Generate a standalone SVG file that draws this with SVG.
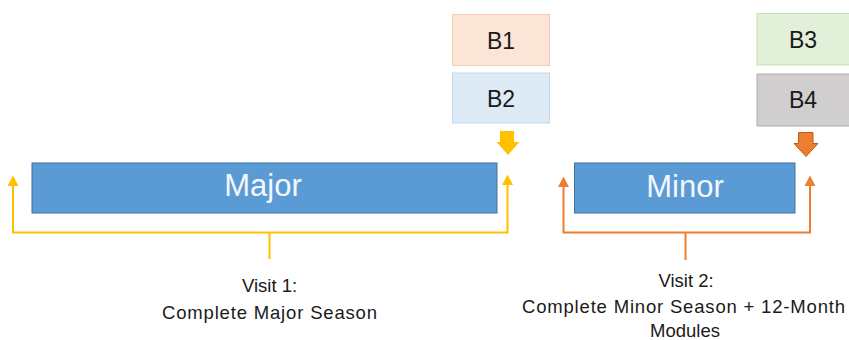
<svg xmlns="http://www.w3.org/2000/svg" width="849" height="340" viewBox="0 0 849 340">
<style>
.lbl{font-family:"Liberation Sans",Arial,sans-serif;fill:#1a1a1a;text-anchor:middle}
.box{font-size:23px}
.big{font-family:"Liberation Sans",Arial,sans-serif;fill:#f4f7fb;font-size:31px;text-anchor:middle}
.cap{font-size:18.5px}
.ylw{fill:none;stroke:#ffc000;stroke-width:2}
.org{fill:none;stroke:#ed7d31;stroke-width:2}
.yh{fill:#ffc000}
.oh{fill:#ed7d31}
</style>
<g id="B1"><rect x="452.5" y="14.5" width="97" height="51" fill="#fbe5d6" stroke="#f8cbad"/><text class="lbl box" x="501" y="48.5">B1</text></g>
<g id="B2"><rect x="452.5" y="73" width="97" height="50" fill="#deebf7" stroke="#bdd7ee"/><text class="lbl box" x="501" y="106.5">B2</text></g>
<g id="B3"><rect x="757" y="13.5" width="100" height="51.5" fill="#e2f0d9" stroke="#c5e0b4"/><text class="lbl box" x="803" y="48">B3</text></g>
<g id="B4"><rect x="757" y="74" width="100" height="52" fill="#d0cece" stroke="#aeabab"/><text class="lbl box" x="803" y="108">B4</text></g>
<g id="Major"><rect x="32" y="163" width="465" height="50" fill="#5b9bd5" stroke="#41719c"/><text class="big" x="263" y="196">Major</text></g>
<g id="Minor"><rect x="574.5" y="163" width="220.5" height="50" fill="#5b9bd5" stroke="#41719c"/><text class="big" x="685" y="196.5">Minor</text></g>
<g id="connectors">
<path d="M500,131 H514 V142 H519.5 L508,155 L496.5,142 H500 Z" fill="#ffc000"/>
<path d="M798.5,132.5 H813 V143.5 H818 L806,156.5 L794,143.5 H798.5 Z" fill="#ed7d31" stroke="#c55a11" stroke-width="1"/>
<path class="ylw" d="M13,184 V232.5 H507.5 V183"/>
<path class="yh" d="M7.5,186 L13,175.5 L18.5,186 Z"/>
<path class="yh" d="M502,185 L507.5,174.5 L513,185 Z"/>
<line class="ylw" x1="269.5" y1="232.5" x2="269.5" y2="259"/>
<path class="org" d="M563.5,184 V232.5 H810 V184"/>
<path class="oh" d="M558,187 L563.5,176.5 L569,187 Z"/>
<path class="oh" d="M804.5,186 L810,175.5 L815.5,186 Z"/>
<line class="org" x1="685.5" y1="232.5" x2="685.5" y2="260"/>
</g>
<g id="captions">
<text class="lbl cap" x="269.5" y="291.5">Visit 1:</text>
<text class="lbl cap" x="269.5" y="318.5" textLength="215" lengthAdjust="spacing">Complete  Major Season</text>
<text class="lbl cap" x="686" y="286.5">Visit 2:</text>
<text class="lbl cap" x="683.5" y="313" textLength="323" lengthAdjust="spacing">Complete Minor Season + 12-Month</text>
<text class="lbl cap" x="685" y="337">Modules</text>
</g>
</svg>
